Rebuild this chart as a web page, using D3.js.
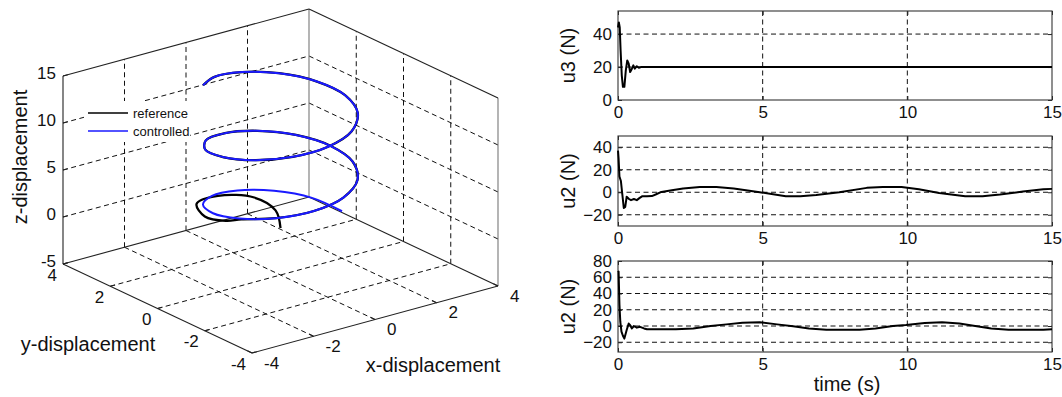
<!DOCTYPE html>
<html><head><meta charset="utf-8">
<script src="https://cdn.jsdelivr.net/npm/d3@7"></script>
<style>
body{margin:0;background:#fff}
svg{display:block}
text{font-family:"Liberation Sans",Arial,Helvetica,sans-serif;fill:#111}
</style>
</head><body>
<svg id="c" width="1062" height="397"></svg>
<script>
// ---------------- DATA ----------------
// 3D trajectories (black = "reference", blue = "controlled")
const referenceX = [0, 0.3, 0.3, -0.5, -1.5, -2.0, -2.0, -1.85, -1.31, -0.42, 0.57, 1.42, 1.92, 1.95, 1.51, 0.69, -0.29, -1.20, -1.82, -1.99, -1.68, -0.95, 0.01, 0.97, 1.69, 2.00, 1.81, 1.19, 0.27, -0.71, -1.52];
const referenceY = [0, 0.6, 1.5, 2.0, 1.6, 0.6, -0.3, -0.75, -1.51, -1.96, -1.92, -1.41, -0.56, 0.43, 1.31, 1.88, 1.98, 1.60, 0.82, -0.15, -1.09, -1.76, -2.00, -1.75, -1.07, -0.13, 0.84, 1.61, 1.98, 1.87, 1.30];
const referenceZ = [0, 0.9, 1.2, 1.5, 2.0, 2.3, 2.9, 3.45, 4.0, 4.5, 5.0, 5.5, 6.0, 6.5, 7.0, 7.5, 8.0, 8.5, 9.0, 9.5, 10.0, 10.5, 11.0, 11.5, 12.0, 12.5, 13.0, 13.5, 14.0, 14.5, 15.0];

const controlledX = [2.00, 1.76, 1.08, 0.14, -0.83, -1.60, -1.98, -1.87, -1.31, -0.42, 0.57, 1.42, 1.92, 1.95, 1.51, 0.69, -0.29, -1.20, -1.82, -1.99, -1.68, -0.95, 0.01, 0.97, 1.69, 2.00, 1.81, 1.19, 0.27, -0.71, -1.52];
const controlledY = [0, 0.96, 1.68, 2.00, 1.82, 1.20, 0.28, -0.70, -1.51, -1.96, -1.92, -1.41, -0.56, 0.43, 1.31, 1.88, 1.98, 1.60, 0.82, -0.15, -1.09, -1.76, -2.00, -1.75, -1.07, -0.13, 0.84, 1.61, 1.98, 1.87, 1.30];
const controlledZ = [0, 0.5, 1.0, 1.5, 2.0, 2.5, 3.0, 3.5, 4.0, 4.5, 5.0, 5.5, 6.0, 6.5, 7.0, 7.5, 8.0, 8.5, 9.0, 9.5, 10.0, 10.5, 11.0, 11.5, 12.0, 12.5, 13.0, 13.5, 14.0, 14.5, 15.0];

const xTicks3 = [-4, -2, 0, 2, 4];
const yTicks3 = [-4, -2, 0, 2, 4];
const zTicks3 = [-5, 0, 5, 10, 15];

// Time series
const timeTicks = [0, 5, 10, 15];

const u3Time  = [0, 0.03, 0.06, 0.09, 0.13, 0.17, 0.22, 0.27, 0.32, 0.37, 0.42, 0.48, 0.53, 0.58, 0.65, 0.72, 0.8, 1.0, 15];
const u3Value = [44, 47, 44, 30, 15, 8, 8, 18, 24, 22, 17, 19, 21, 19, 20.5, 19.6, 20, 20, 20];
const u3Ticks = [0, 20, 40];

const u2aTime  = [0, 0.02, 0.05, 0.1, 0.15, 0.2, 0.25, 0.3, 0.38, 0.45, 0.55, 0.65, 0.75, 0.83, 1.0, 1.17, 1.3, 1.5, 1.86, 2.25, 2.83, 3.4, 4.0, 4.9, 5.8, 6.3, 6.85, 7.65, 8.6, 9.15, 9.8, 10.4, 11.1, 12.0, 12.6, 13.2, 14.0, 14.7, 15];
const u2aValue = [37, 30, 14, 10, -2, -14, -13, -4, -6, -7, -6, -7, -5, -3.6, -3.5, -3.4, -2, 0.3, 1.8, 3.3, 4.7, 4.7, 3.3, 0, -3.6, -3.6, -2.4, 0, 3.9, 4.7, 4.7, 2.7, -0.6, -3.6, -3.6, -2.1, 0.6, 2.7, 3];
const u2aTicks = [-20, 0, 20, 40];

const u2bTime  = [0, 0.02, 0.05, 0.08, 0.12, 0.17, 0.22, 0.3, 0.37, 0.42, 0.48, 0.55, 0.65, 0.76, 0.9, 1.0, 1.3, 2.0, 2.6, 3.2, 3.75, 4.3, 4.9, 5.5, 6.05, 6.6, 7.2, 8.35, 8.9, 9.5, 9.95, 10.6, 11.2, 11.8, 12.4, 12.9, 13.5, 14.7, 15];
const u2bValue = [66, 67, 26, 5, -7, -12, -15.5, -5, 3, 1, -3, 0, -2, -1, -3, -4, -4, -4, -3, 0, 2, 4, 4.5, 2, -0.4, -3, -4.5, -4.5, -3, 0, 1.2, 3.7, 4.5, 3, -0.4, -3, -4.5, -4.5, -4];
const u2bTicks = [-20, 0, 20, 40, 60, 80];

// ---------------- DRAW ----------------
const svg = d3.select("#c");
const TICK_FS = 17, LABEL_FS = 20;
const GRID_DASH = "5,3.5", GRID_COLOR = "#111";

// ===== 3D plot =====
const X3 = d3.scaleLinear().domain([-4, 4]).range([0, 1]);
const Y3 = d3.scaleLinear().domain([-4, 4]).range([0, 1]);
const Z3 = d3.scaleLinear().domain([-5, 15]).range([0, 1]);
const O = [252, 353], EX = [246, -67], EY = [-189, -89], EZ = [0, -188];
function P(x, y, z) {
  const a = X3(x), b = Y3(y), c = Z3(z);
  return [O[0] + a * EX[0] + b * EY[0] + c * EZ[0], O[1] + a * EX[1] + b * EY[1] + c * EZ[1]];
}
const g3 = svg.append("g");
function seg(p, q, cls) {
  const l = g3.append("line").attr("x1", p[0]).attr("y1", p[1]).attr("x2", q[0]).attr("y2", q[1]);
  if (cls === "grid") l.attr("stroke", GRID_COLOR).attr("stroke-width", 1).attr("stroke-dasharray", GRID_DASH);
  else if (cls === "gray") l.attr("stroke", "#777").attr("stroke-width", 1.1);
  else l.attr("stroke", "#222").attr("stroke-width", 1.1);
  return l;
}
const xLo = -4, xHi = 4, yLo = -4, yHi = 4, zLo = -5, zHi = 15;
const inner = a => a.slice(1, -1);
// floor grid
inner(xTicks3).forEach(x => seg(P(x, yLo, zLo), P(x, yHi, zLo), "grid"));
inner(yTicks3).forEach(y => seg(P(xLo, y, zLo), P(xHi, y, zLo), "grid"));
// back-left wall (y = yHi)
inner(xTicks3).forEach(x => seg(P(x, yHi, zLo), P(x, yHi, zHi), "grid"));
inner(zTicks3).forEach(z => seg(P(xLo, yHi, z), P(xHi, yHi, z), "grid"));
// back-right wall (x = xHi)
inner(yTicks3).forEach(y => seg(P(xHi, y, zLo), P(xHi, y, zHi), "grid"));
inner(zTicks3).forEach(z => seg(P(xHi, yLo, z), P(xHi, yHi, z), "grid"));
// box edges
seg(P(xHi, yHi, zLo), P(xHi, yHi, zHi), "gray");
seg(P(xHi, yLo, zLo), P(xHi, yLo, zHi), "gray");
seg(P(xLo, yHi, zLo), P(xHi, yHi, zLo));
seg(P(xHi, yHi, zLo), P(xHi, yLo, zLo));
seg(P(xLo, yHi, zHi), P(xHi, yHi, zHi));
seg(P(xHi, yHi, zHi), P(xHi, yLo, zHi));
seg(P(xLo, yHi, zLo), P(xLo, yHi, zHi));      // z axis
seg(P(xLo, yHi, zLo), P(xLo, yLo, zLo));      // y axis
seg(P(xLo, yLo, zLo), P(xHi, yLo, zLo));      // x axis

function unit(v, len) { const n = Math.hypot(v[0], v[1]); return [v[0] / n * len, v[1] / n * len]; }
const ux = unit(EX, 5), uy = unit(EY, 5);
// z ticks
zTicks3.forEach(z => {
  const p = P(xLo, yHi, z);
  seg(p, [p[0] + ux[0], p[1] + ux[1]]);
  g3.append("text").attr("x", p[0] - 7).attr("y", p[1] - 3).attr("text-anchor", "end")
    .attr("dominant-baseline", "central").attr("font-size", TICK_FS).text(z);
});
// y ticks
yTicks3.forEach(y => {
  const p = P(xLo, y, zLo);
  seg(p, [p[0] + ux[0], p[1] + ux[1]]);
  g3.append("text").attr("x", p[0] - 6).attr("y", p[1] + 11).attr("text-anchor", "end")
    .attr("dominant-baseline", "central").attr("font-size", TICK_FS).text(y);
});
// x ticks
xTicks3.forEach(x => {
  const p = P(x, yLo, zLo);
  seg(p, [p[0] + uy[0], p[1] + uy[1]]);
  g3.append("text").attr("x", p[0] + 12).attr("y", p[1] + 10).attr("text-anchor", "start")
    .attr("dominant-baseline", "central").attr("font-size", TICK_FS).text(x);
});
// axis labels
g3.append("text").attr("transform", "translate(20,157) rotate(-90)").attr("text-anchor", "middle")
  .attr("dominant-baseline", "central").attr("font-size", LABEL_FS).text("z-displacement");
g3.append("text").attr("x", 88).attr("y", 344).attr("text-anchor", "middle")
  .attr("dominant-baseline", "central").attr("font-size", LABEL_FS).text("y-displacement");
g3.append("text").attr("x", 433).attr("y", 365).attr("text-anchor", "middle")
  .attr("dominant-baseline", "central").attr("font-size", LABEL_FS).text("x-displacement");

// trajectories
const line3 = d3.line().curve(d3.curveCatmullRom.alpha(0.5));
const refPts = referenceX.map((x, i) => P(x, referenceY[i], referenceZ[i]));
const ctlPts = controlledX.map((x, i) => P(x, controlledY[i], controlledZ[i]));
g3.append("path").attr("d", line3(refPts)).attr("fill", "none").attr("stroke", "#000").attr("stroke-width", 2.3);
g3.append("path").attr("d", line3(ctlPts)).attr("fill", "none").attr("stroke", "#1a1aff").attr("stroke-width", 2);

// legend
const lg = svg.append("g");
lg.append("rect").attr("x", 84).attr("y", 101).attr("width", 106).attr("height", 41).attr("fill", "#fff");
lg.append("line").attr("x1", 88).attr("x2", 128).attr("y1", 113).attr("y2", 113).attr("stroke", "#000").attr("stroke-width", 1.5);
lg.append("line").attr("x1", 88).attr("x2", 128).attr("y1", 131).attr("y2", 131).attr("stroke", "#1a1aff").attr("stroke-width", 1.5);
lg.append("text").attr("x", 133).attr("y", 113).attr("dominant-baseline", "central").attr("font-size", 13).text("reference");
lg.append("text").attr("x", 133).attr("y", 131).attr("dominant-baseline", "central").attr("font-size", 13).text("controlled");

// ===== Time plots =====
const xT = d3.scaleLinear().domain([0, 15]).range([618, 1052]);
const panels = [
  { top: 11, bottom: 100, domain: [0, 54], ticks: u3Ticks, label: "u3 (N)", t: u3Time, v: u3Value },
  { top: 136, bottom: 226, domain: [-30, 50], ticks: u2aTicks, label: "u2 (N)", t: u2aTime, v: u2aValue },
  { top: 261, bottom: 352, domain: [-32, 80], ticks: u2bTicks, label: "u2 (N)", t: u2bTime, v: u2bValue }
];
panels.forEach(pn => {
  const y = d3.scaleLinear().domain(pn.domain).range([pn.bottom, pn.top]);
  const g = svg.append("g");
  const [x0, x1] = xT.range();
  // grid
  timeTicks.filter(t => xT(t) > x0 + 1 && xT(t) < x1 - 1).forEach(t =>
    g.append("line").attr("x1", xT(t)).attr("x2", xT(t)).attr("y1", pn.top).attr("y2", pn.bottom)
      .attr("stroke", GRID_COLOR).attr("stroke-width", 1).attr("stroke-dasharray", GRID_DASH));
  pn.ticks.filter(v => y(v) > pn.top + 1 && y(v) < pn.bottom - 1).forEach(v =>
    g.append("line").attr("x1", x0).attr("x2", x1).attr("y1", y(v)).attr("y2", y(v))
      .attr("stroke", GRID_COLOR).attr("stroke-width", 1).attr("stroke-dasharray", GRID_DASH));
  // axes
  const ax = g.append("g").attr("transform", `translate(0,${pn.bottom})`)
    .call(d3.axisBottom(xT).tickValues(timeTicks).tickSize(-4).tickPadding(6).tickFormat(d3.format("d")));
  const ay = g.append("g").attr("transform", `translate(${x0},0)`)
    .call(d3.axisLeft(y).tickValues(pn.ticks).tickSize(-4).tickPadding(6).tickFormat(d3.format("d")));
  g.append("g").attr("transform", `translate(0,${pn.top})`)
    .call(d3.axisTop(xT).tickValues(timeTicks).tickSize(-4).tickFormat(""));
  g.append("g").attr("transform", `translate(${x1},0)`)
    .call(d3.axisRight(y).tickValues(pn.ticks).tickSize(-4).tickFormat(""));
  g.selectAll(".domain").remove();
  g.selectAll(".tick line").attr("stroke", "#222");
  [ax, ay].forEach(a => a.selectAll("text").attr("font-size", TICK_FS).attr("font-family", "Liberation Sans, Arial, sans-serif").attr("fill", "#111"));
  // box
  g.append("rect").attr("x", x0).attr("y", pn.top).attr("width", x1 - x0).attr("height", pn.bottom - pn.top)
    .attr("fill", "none").attr("stroke", "#333").attr("stroke-width", 1.1);
  // data
  const ln = d3.line().x((d, i) => xT(pn.t[i])).y(d => y(d));
  g.append("path").attr("d", ln(pn.v)).attr("fill", "none").attr("stroke", "#000").attr("stroke-width", 2).attr("stroke-linejoin", "round");
  // y label
  g.append("text").attr("transform", `translate(568,${(pn.top + pn.bottom) / 2}) rotate(-90)`)
    .attr("text-anchor", "middle").attr("dominant-baseline", "central").attr("font-size", LABEL_FS).text(pn.label);
});
svg.append("text").attr("x", 847).attr("y", 384).attr("text-anchor", "middle")
  .attr("dominant-baseline", "central").attr("font-size", LABEL_FS).text("time (s)");
</script>
</body></html>
